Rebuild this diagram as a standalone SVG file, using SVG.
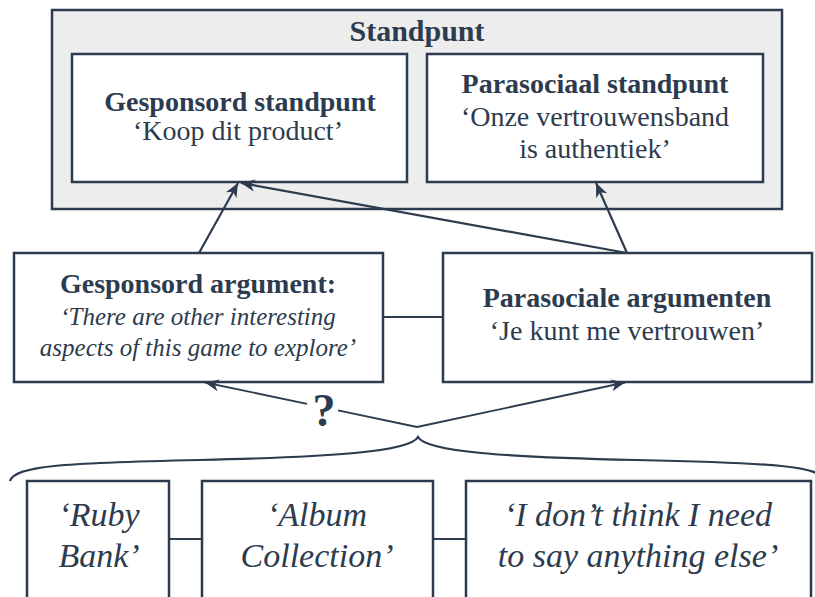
<svg xmlns="http://www.w3.org/2000/svg" width="815" height="597" viewBox="0 0 815 597">
<style>
.box{fill:#ffffff;stroke:#2d3b4e;stroke-width:2.5}
.outer{fill:#ededed;stroke:#2d3b4e;stroke-width:2.5}
.ln{fill:none;stroke:#2d3b4e;stroke-width:2.2}
.thin{fill:none;stroke:#2d3b4e;stroke-width:1.8}
text{font-family:"Liberation Serif","Times New Roman",serif;fill:#2d3b4e;text-anchor:middle}
.b{font-weight:bold;font-size:28px}
.r{font-size:28px}
.i{font-style:italic;font-size:25px}
.bi{font-style:italic;font-size:34px}
</style>
<defs>
<marker id="ah" markerUnits="userSpaceOnUse" markerWidth="16" markerHeight="14" viewBox="-14 -7 16 14" refX="0" refY="0" orient="auto">
<path d="M0,0 L-14,-6 L-10,0 L-14,6 Z" fill="#2d3b4e"/>
</marker>
</defs>
<g id="standpunt">
<rect class="outer" x="52" y="10" width="730" height="199"/>
<text class="b" x="417" y="41" style="font-size:30px">Standpunt</text>
</g>
<g id="gesponsord-standpunt">
<rect class="box" x="72" y="54" width="335" height="128"/>
<text class="b" x="240" y="111">Gesponsord standpunt</text>
<text class="r" x="238" y="140">‘Koop dit product’</text>
</g>
<g id="parasociaal-standpunt">
<rect class="box" x="427" y="54" width="336" height="128"/>
<text class="b" x="595" y="93">Parasociaal standpunt</text>
<text class="r" x="595" y="126">‘Onze vertrouwensband</text>
<text class="r" x="595" y="158">is authentiek’</text>
</g>
<g id="gesponsord-argument">
<rect class="box" x="14" y="253" width="369" height="129"/>
<text class="b" x="198" y="293">Gesponsord argument:</text>
<text class="i" x="198" y="325">‘There are other interesting</text>
<text class="i" x="198" y="356">aspects of this game to explore’</text>
</g>
<g id="parasociale-argumenten">
<rect class="box" x="443" y="253" width="369" height="129"/>
<text class="b" x="627" y="307">Parasociale argumenten</text>
<text class="r" x="627" y="340">‘Je kunt me vertrouwen’</text>
</g>
<g id="ruby-bank">
<rect class="box" x="27" y="481" width="142" height="130"/>
<text class="bi" x="99" y="526">‘Ruby</text>
<text class="bi" x="99" y="567">Bank’</text>
</g>
<g id="album-collection">
<rect class="box" x="202" y="481" width="231" height="130"/>
<text class="bi" x="317" y="526">‘Album</text>
<text class="bi" x="317" y="567">Collection’</text>
</g>
<g id="i-dont-think">
<rect class="box" x="466" y="481" width="345" height="130"/>
<text class="bi" x="638" y="526">‘I don’t think I need</text>
<text class="bi" x="638" y="567">to say anything else’</text>
</g>
<g id="question">
<text x="324" y="426" style="font-weight:bold;font-size:46px">?</text>
</g>
<g id="connectors">
<line class="ln" x1="383" y1="317" x2="443" y2="317"/>
<line class="ln" x1="169" y1="539" x2="202" y2="539"/>
<line class="ln" x1="433" y1="539" x2="466" y2="539"/>
<line class="ln" x1="199" y1="253" x2="238" y2="183" marker-end="url(#ah)"/>
<line class="ln" x1="627" y1="253" x2="241" y2="183" marker-end="url(#ah)"/>
<line class="ln" x1="627" y1="253" x2="596" y2="183" marker-end="url(#ah)"/>
<line class="thin" x1="417" y1="427" x2="338" y2="410.3"/>
<line class="thin" x1="307" y1="403.8" x2="205" y2="382.5" marker-end="url(#ah)"/>
<line class="thin" x1="417" y1="427" x2="625" y2="382.5" marker-end="url(#ah)"/>
<path class="ln" d="M10,481 C15,466 60,463 200,460 C330,457 410,452 418,437 C426,452 506,457 636,460 C776,463 821,466 826,481"/>
</g>
</svg>
